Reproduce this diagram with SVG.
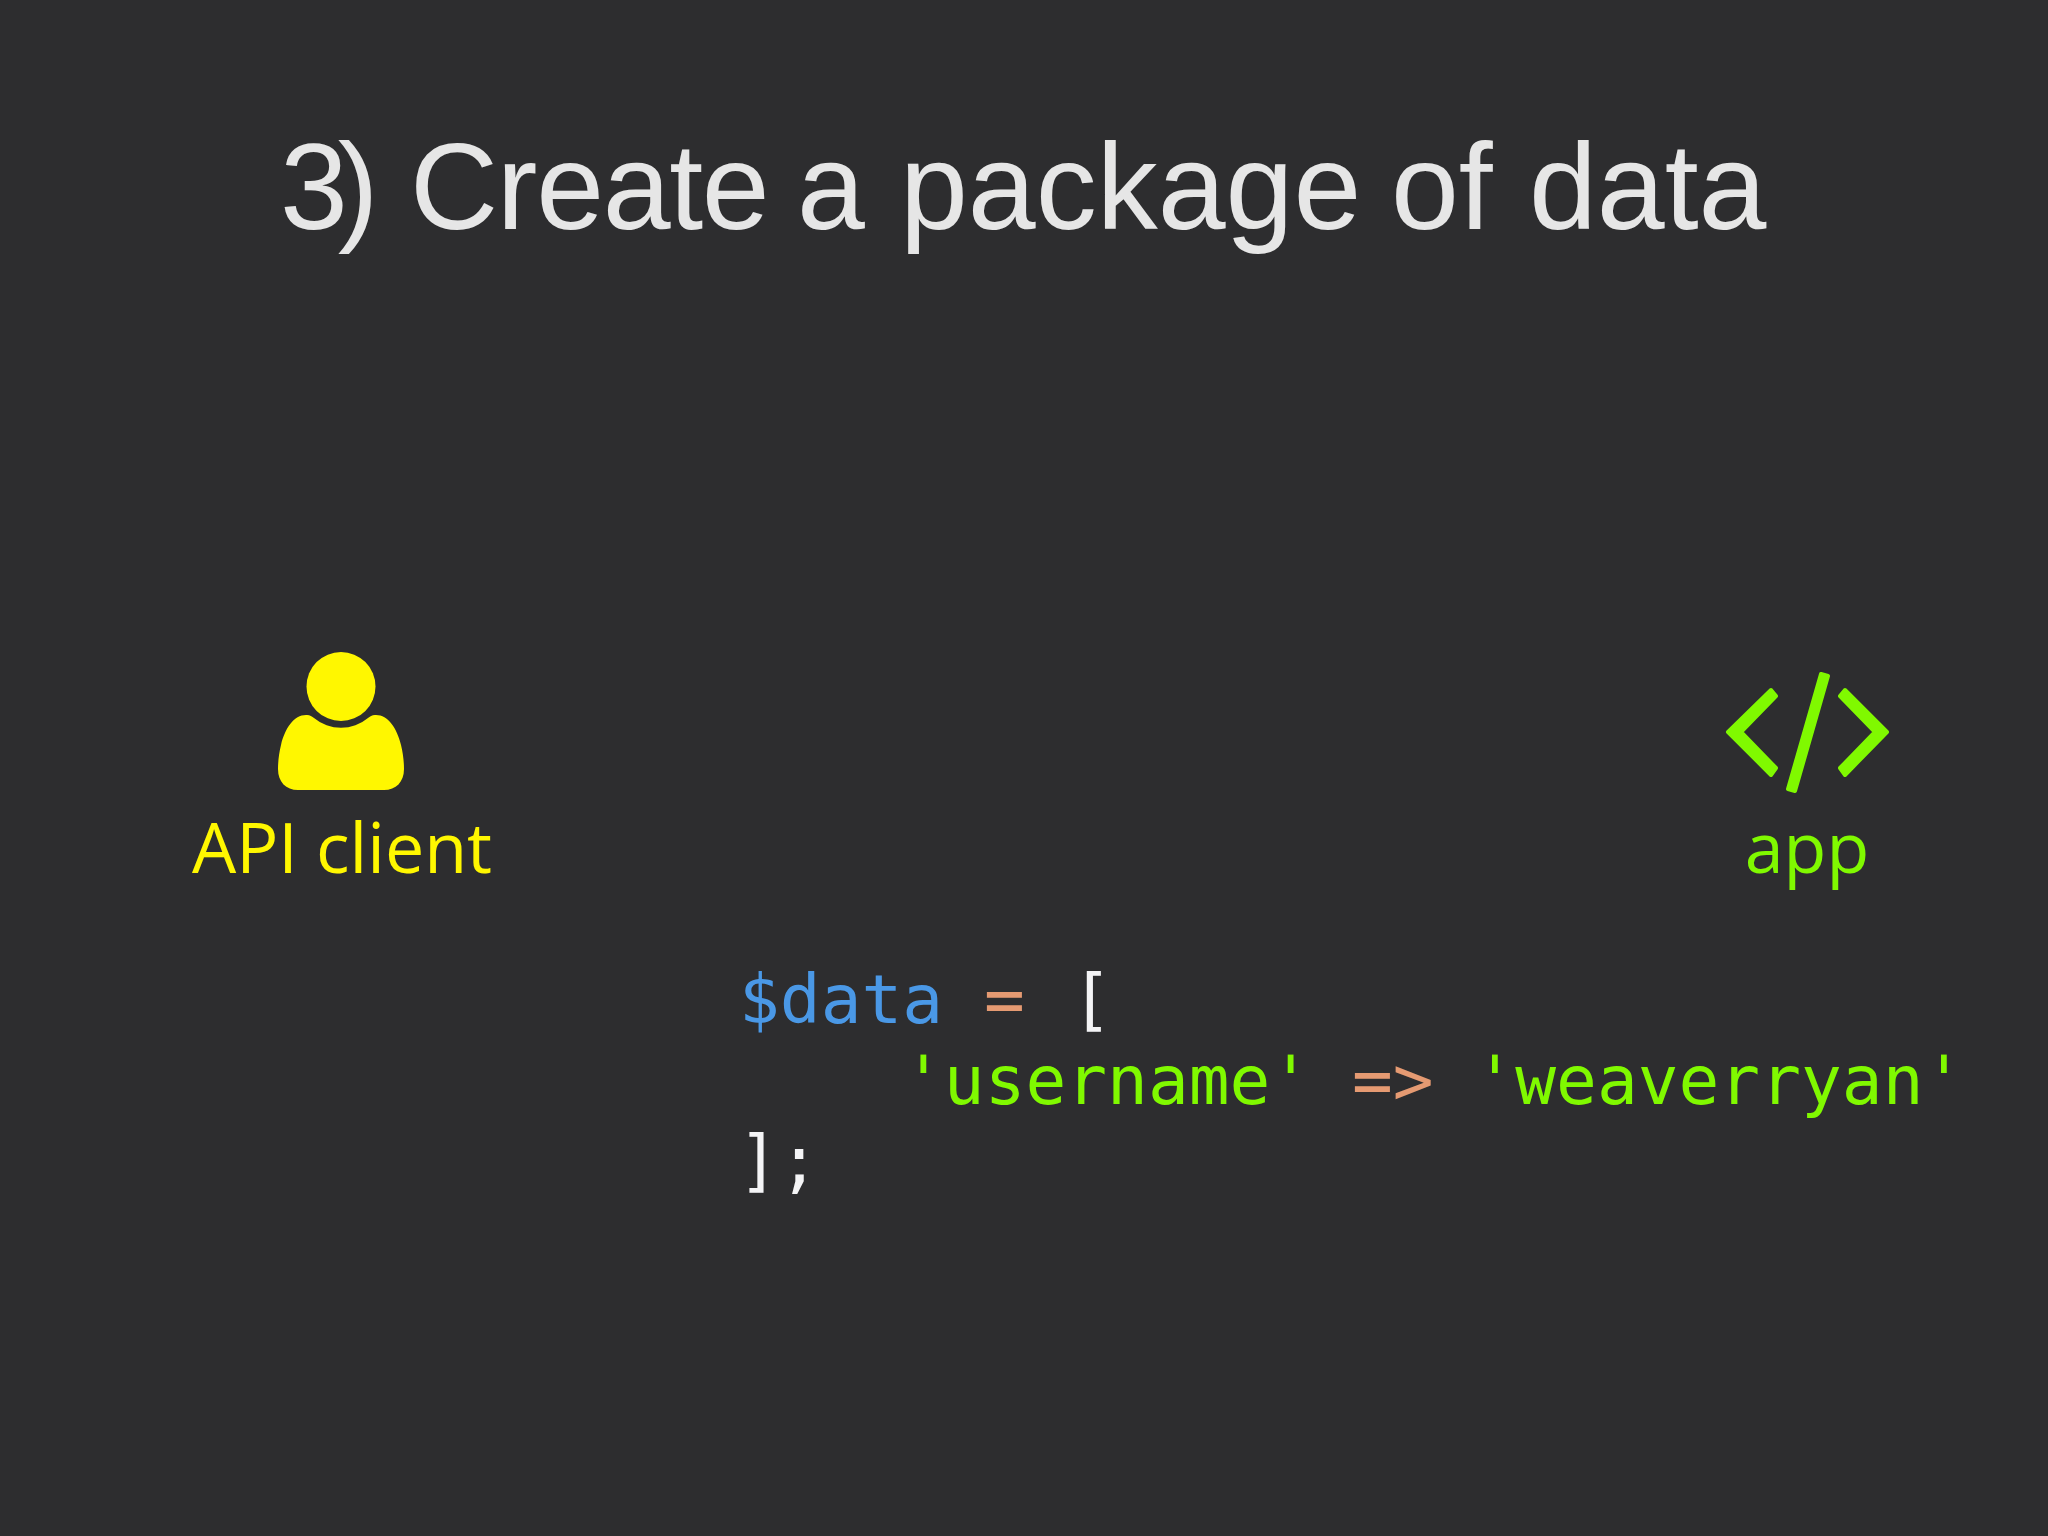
<svg xmlns="http://www.w3.org/2000/svg" width="2048" height="1536" viewBox="0 0 2048 1536">
<style>
.title{font-family:"Liberation Sans",Arial,sans-serif;font-size:122px;fill:#e6e6e6}
.label{font-family:"Open Sans","Noto Sans",sans-serif;font-size:70px;text-anchor:middle}
.code{font-family:"DejaVu Sans Mono",monospace;font-size:67.8px;white-space:pre}
.y{fill:#fff700}.g{fill:#80f900}.b{fill:#4a98e6}.o{fill:#e59a72}.w{fill:#f4f4f6}
.ic{fill:#80f900;stroke:#80f900;stroke-width:4;stroke-linejoin:round}
</style>
<rect width="2048" height="1536" fill="#2d2d2f"/>
<text class="title" y="229"><tspan x="280" letter-spacing="-10">3)</tspan><tspan x="410" letter-spacing="-1.3">Create</tspan><tspan x="797">a</tspan><tspan x="900">package</tspan><tspan x="1391">of</tspan><tspan x="1529">data</tspan></text>
<g id="api-client">
<circle cx="341" cy="686.5" r="34.5" fill="#fff700"/>
<path class="y" d="M314 718A42 42 0 0 0 368 718C370 716 373 714.5 376 715C388 715 397 728 401 745C403 753 404 762 404 769C404 782 396 790 384 790H298C286 790 278 782 278 769C278 762 279 753 281 745C285 728 294 715 306 715C309 714.5 312 716 314 718Z"/>
<text class="label y" x="342" y="873">API client</text>
</g>
<g id="app">
<polygon class="ic" points="1728,732 1771,690 1776,696 1741,732 1776,768 1771,775"/>
<polygon class="ic" points="1887,732 1845,690 1840,696 1875,732 1840,768 1845,775"/>
<polygon class="ic" points="1821,674 1828,676 1795,791 1788,789"/>
<text class="label g" x="1807" y="873">app</text>
</g>
<g id="code">
<text class="code" x="739" y="1023"><tspan class="b">$data</tspan> <tspan class="o">=</tspan> <tspan class="w" dx="6">[</tspan></text>
<text class="code" x="903" y="1104"><tspan class="g">'username'</tspan> <tspan class="o">=&gt;</tspan> <tspan class="g">'weaverryan'</tspan></text>
<text class="code w" x="738" y="1184">];</text>
</g>
</svg>
